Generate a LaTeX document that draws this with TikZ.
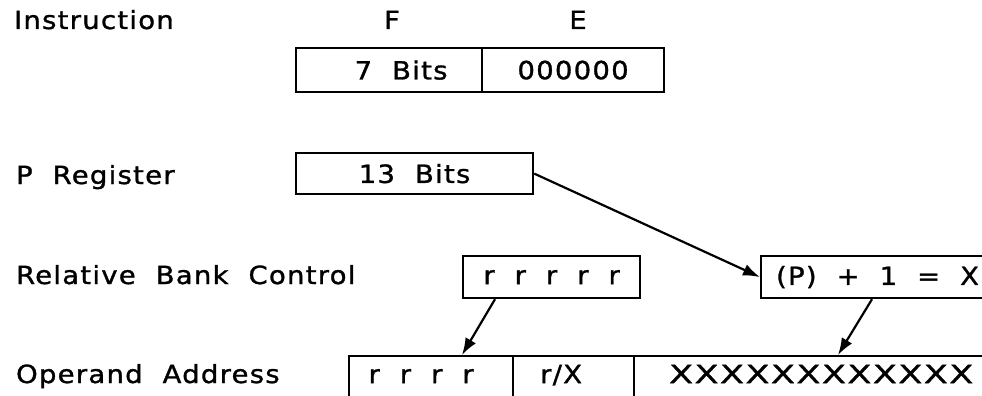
\documentclass[tikz,border=0pt]{standalone}
\usepackage{fontspec}
\setmainfont{DejaVu Sans}
\newfontfamily\plotfont[FakeStretch=1.1,LetterSpace=5,WordSpace=2,FakeBold=1.2]{DejaVu Sans}
\newfontfamily\xfont[FakeStretch=1.4,LetterSpace=6,FakeBold=1.2]{DejaVu Sans}
\usetikzlibrary{arrows.meta,calc}
\begin{document}
\begin{tikzpicture}[x=1pt,y=-1pt,line width=2.2pt,
  pf/.style={font={\plotfont\fontsize{25}{29}\selectfont}},
  lab/.style={pf,anchor=base west,inner sep=0pt},
  head/.style={pf,anchor=base,inner sep=0pt},
  cell/.style={pf,draw,rectangle,inner sep=0pt,anchor=north west},
  opcell/.style={cell,text height=27pt,text depth=40pt},
  arr/.style={-{Latex[length=17pt,width=12pt]},line width=2.2pt}]
\useasboundingbox (0,0) rectangle (982,396);
\clip (0,0) rectangle (982,396);
% row labels
\node[lab] (linstr) at (13,29) {Instruction};
\node[lab] (lpreg) at (15,184) {P Register};
\node[lab] (lrbc) at (15,284) {Relative Bank Control};
\node[lab] (loper) at (15,383) {Operand Address};
% field headings
\node[head] (hf) at (392,29) {F};
\node[head] (he) at (578,29) {E};
% instruction word
\node[cell,minimum width=186pt,minimum height=44pt] (fcell) at (295,47) {\hspace*{24pt}7 Bits};
\node[cell,minimum width=182pt,minimum height=44pt] (ecell) at (481,47) {000000};
% P register
\node[cell,minimum width=237pt,minimum height=41pt] (bits13) at (295,152) {13 Bits};
% relative bank control
\node[cell,minimum width=177pt,minimum height=42pt] (rbank) at (462,255) {r r r r r};
\node[cell,minimum height=42pt,inner xsep=15pt] (pbox) at (760,255) {\makebox[240pt][l]{(P) + 1 = X}};
% operand address
\node[opcell,minimum width=164pt] (op1) at (348,355) {r r r r\hspace*{20pt}};
\node[opcell,minimum width=121pt] (op2) at (512,355) {r/X\hspace*{25pt}};
\node[opcell,inner xsep=35pt,font={\xfont\fontsize{25}{29}\selectfont}] (op3) at (633,355) {\makebox[340pt][l]{XXXXXXXXXXXX}};
% connectors
\draw[arr] (bits13.east) -- (pbox.west);
\draw[arr] ([xshift=33pt]rbank.south west) -- ([xshift=114pt]op1.north west);
\draw[arr] ([xshift=112pt]pbox.south west) -- ([xshift=205pt]op3.north west);
\end{tikzpicture}
\end{document}
